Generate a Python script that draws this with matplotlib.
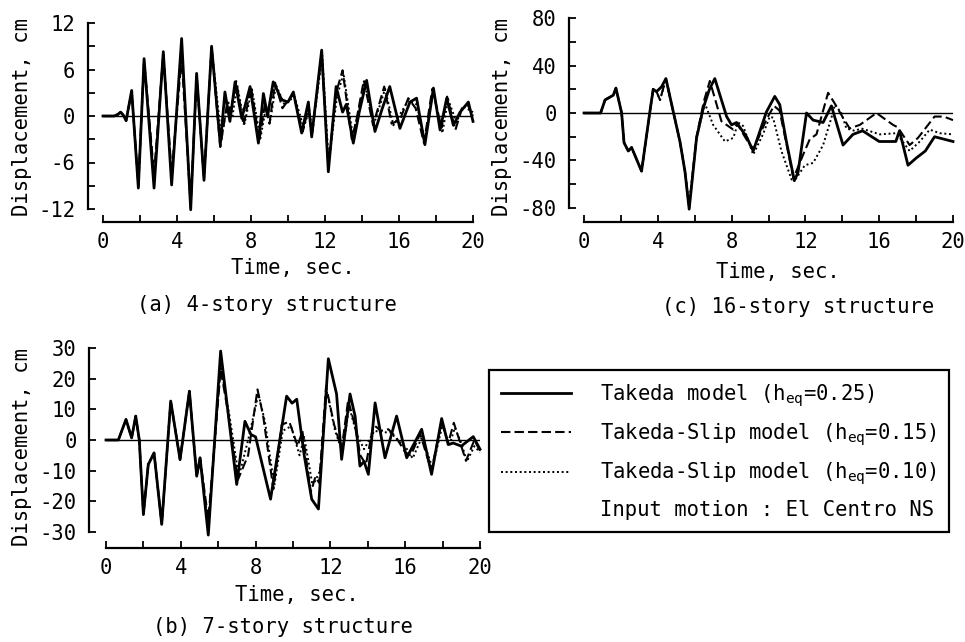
import matplotlib
matplotlib.use("Agg")
import matplotlib.pyplot as plt
from matplotlib.lines import Line2D

plt.rcParams['font.family'] = ['DejaVu Sans Mono']
plt.rcParams['mathtext.fontset'] = 'custom'
plt.rcParams['mathtext.rm'] = 'DejaVu Sans Mono'
plt.rcParams['mathtext.it'] = 'DejaVu Sans Mono'
plt.rcParams['axes.unicode_minus'] = False

FS = 14.8
W, H = 965, 642

# ---- (a) 4-story structure ----
ta_solid = [0, 0.6, 0.8, 0.95, 1.1, 1.25, 1.55, 1.91, 2.22, 2.76, 3.26, 3.71, 4.25, 4.74, 5.06,
            5.46, 5.87, 6.34, 6.59, 6.86, 7.14, 7.5, 7.95, 8.4, 8.67, 8.9, 9.2, 9.66, 10.0,
            10.29, 10.74, 11.1, 11.28, 11.82, 12.18, 12.6, 12.95, 13.15, 13.53, 13.85, 14.25,
            14.7, 15.1, 15.5, 16.05, 16.59, 16.95, 17.4, 17.86, 18.22, 18.58, 18.94, 19.3,
            19.75, 20.0]
va_solid = [0, 0, 0.2, 0.5, 0.1, -0.6, 3.3, -9.3, 7.4, -9.3, 8.3, -8.9, 10.0, -12.1, 5.5,
            -8.3, 9.0, -3.7, 3.1, -0.7, 4.4, -0.3, 3.8, -3.5, 2.9, 0.0, 4.4, 2.1, 1.8,
            3.1, -2.2, 1.8, -2.7, 8.5, -7.2, 3.8, 0.5, 1.5, -3.5, 0.5, 4.6,
            -2.0, 1.0, 3.8, -1.6, 1.8, 2.3, -3.7, 3.6, -1.8, 2.3, -1.2, 0.5,
            1.8, -0.7]
ta_dash = [0, 0.6, 0.8, 0.95, 1.1, 1.25, 1.55, 1.91, 2.22, 2.76, 3.26, 3.71, 4.25, 4.74, 5.06,
           5.46, 5.87, 6.34, 6.7, 6.9, 7.2, 7.6, 8.0, 8.45, 8.75, 9.0, 9.3, 9.7, 10.0, 10.3,
           10.8, 11.1, 11.3, 11.82, 12.18, 12.6, 12.95, 13.45, 13.7, 14.1, 14.6, 15.2, 15.6,
           16.05, 16.5, 16.9, 17.35, 17.8, 18.3, 18.6, 19.05, 19.4, 19.7, 20.0]
va_dash = [0, 0, 0.2, 0.5, 0.1, -0.6, 3.2, -9.0, 7.2, -7.5, 8.0, -7.5, 7.5, -11.5, 5.2,
           -8.0, 8.8, -4.0, 1.5, 0.5, 4.5, -1.2, 3.8, -3.2, 1.5, -1.0, 4.3, 1.0, 2.0, 2.8,
           -2.0, 1.0, -2.3, 8.0, -6.5, 3.0, 5.9, -3.0, -0.5, 4.6, -1.2, 3.8, -1.0,
           -0.5, 2.3, 1.0, -3.5, 3.5, -1.5, 2.5, -1.8, 1.0, 1.5, 0.0]
ta_dot = [0, 0.6, 0.8, 0.95, 1.1, 1.25, 1.55, 1.91, 2.22, 2.76, 3.26, 3.71, 4.25, 4.74, 5.06,
          5.46, 5.87, 6.4, 6.75, 7.0, 7.25, 7.65, 8.05, 8.5, 8.8, 9.05, 9.35, 9.8, 10.35,
          10.85, 11.15, 11.32, 11.85, 12.2, 12.65, 13.0, 13.5, 14.15, 14.65, 15.25, 15.7,
          16.5, 16.95, 17.4, 17.85, 18.35, 18.65, 19.1, 19.5, 20.0]
va_dot = [0, 0, 0.2, 0.5, 0.1, -0.6, 3.2, -9.1, 7.3, -8.0, 8.1, -8.0, 9.0, -11.8, 5.3,
          -8.1, 8.9, -3.0, 2.0, 0.0, 4.0, -1.0, 3.5, -3.0, 1.0, -0.5, 4.0, 1.5, 2.5,
          -1.5, 0.8, -2.0, 7.8, -6.0, 2.5, 5.5, -2.5, 4.2, -1.0, 3.5, -1.2,
          2.0, 1.5, -3.0, 3.2, -2.2, 2.2, -0.8, 1.2, 0.5]

# ---- (c) 16-story structure ----
tc_solid = [0, 0.9, 1.14, 1.59, 1.73, 2.04, 2.17, 2.4, 2.58, 3.12, 3.57, 3.75, 3.93, 4.2, 4.44,
            4.84, 5.2, 5.47, 5.7, 6.1, 6.46, 6.8, 7.09, 7.73, 8.0, 8.27, 8.81, 9.17, 9.89,
            10.34, 10.61, 10.97, 11.4, 11.6, 12.06, 12.42, 12.96, 13.41, 14.04, 14.58, 15.1,
            16.0, 16.9, 17.1, 17.56, 18.0, 18.5, 19.0, 19.5, 20.0]
vc_solid = [0, 0, 11, 15, 21, 0, -25, -32, -29, -49, 1, 20, 18, 22, 29,
            1, -24, -49, -81, -21, 4, 20, 29, -3, -10, -8, -20, -32, 1,
            14, 7, -24, -57, -50, 0, -6, -8, 6, -27, -18, -15,
            -24, -24, -15, -44, -38, -32, -20, -22, -24]
tc_dash = [0, 0.9, 1.14, 1.59, 1.73, 2.04, 2.17, 2.4, 2.58, 3.12, 3.57, 3.75, 3.93, 4.12, 4.44,
           4.84, 5.2, 5.47, 5.7, 6.1, 6.5, 6.82, 7.45, 8.09, 8.3, 8.99, 9.2, 9.9, 10.3, 10.6,
           11.0, 11.35, 11.88, 12.24, 12.6, 13.23, 13.59, 14.04, 14.4, 14.95, 15.85, 16.75,
           17.0, 17.65, 18.1, 19.0, 19.5, 20.0]
vc_dash = [0, 0, 11, 15, 21, 0, -25, -32, -29, -49, 1, 20, 18, 11, 29,
           1, -24, -49, -80, -20, 10, 27, -7, -14, -9, -27, -30, -5, 6, 2,
           -28, -55, -35, -22, -18, 17, 8, -4, -13, -10, 0, -10,
           -12, -27, -21, -3, -3, -6]
tc_dot = [0, 0.9, 1.14, 1.59, 1.73, 2.04, 2.17, 2.4, 2.58, 3.12, 3.57, 3.75, 3.93, 4.12, 4.44,
          4.84, 5.2, 5.47, 5.7, 6.1, 6.55, 7.0, 7.64, 8.09, 8.36, 8.63, 9.17, 9.7, 10.07,
          10.25, 10.7, 11.25, 11.5, 11.97, 12.42, 12.96, 13.41, 13.6, 13.95, 14.22, 14.67,
          15.04, 16.03, 16.93, 17.65, 18.2, 18.74, 19.28, 20.0]
vc_dot = [0, 0, 11, 15, 21, 0, -25, -32, -29, -49, 1, 20, 18, 11, 28,
          1, -24, -49, -76, -21, 8, -10, -24, -21, -8, -11, -35, -18, -3,
          -4, -32, -56, -55, -44, -42, -27, -4, 7, 0, -13, -15,
          -13, -18, -17, -32, -24, -14, -17, -18]

# ---- (b) 7-story structure ----
tb_solid = [0, 0.66, 1.07, 1.37, 1.59, 1.78, 2.0, 2.26, 2.57, 2.98, 3.46, 3.96, 4.46, 4.85,
            5.03, 5.47, 6.13, 6.99, 7.43, 7.75, 8.0, 8.8, 9.66, 9.95, 10.2, 10.6, 11.0,
            11.36, 11.89, 12.33, 12.6, 13.05, 13.32, 13.58, 13.8, 14.03, 14.39, 14.92,
            15.54, 16.08, 16.88, 17.41, 17.95, 18.3, 18.57, 19.0, 19.64, 20.0]
vb_solid = [0, 0, 6.7, 0.7, 7.8, 0, -24.3, -8, -4.2, -27.5, 12.7, -6.4, 15.9, -11.8,
            -5.8, -31.0, 29, -14.5, 6.1, 1.8, 1.0, -19.3, 14.3, 12, 13.3, -5, -19.3,
            -22.5, 26.5, 15, -6.3, 15, 7.8, -8.5, -7, -11.2, 12.1, -5.8,
            7.8, -5.8, 3.5, -11.2, 7.0, -1.5, -1, -2, 1.1, -3]
tb_dash = [0, 0.66, 1.07, 1.37, 1.59, 1.78, 2.0, 2.26, 2.57, 2.98, 3.46, 3.96, 4.46, 4.85,
           5.03, 5.47, 6.13, 6.5, 7.05, 7.6, 8.1, 8.4, 8.95, 9.4, 9.8, 10.25, 10.5, 10.95,
           11.2, 11.4, 11.77, 12.2, 12.6, 12.95, 13.3, 13.6, 13.9, 14.3, 14.7, 15.1, 15.5,
           16.0, 16.3, 16.8, 17.4, 17.95, 18.3, 18.6, 19.0, 19.25, 19.7, 20.0]
vb_dash = [0, 0, 6.7, 0.7, 7.8, 0, -24.3, -8, -4.2, -27.5, 12.7, -6.4, 15.9, -11.8,
           -5.8, -26, 23, 10, -13, -5, 16.5, 8, -16, 5, 6, -2, 3, -17,
           -12, -14, 17.5, 5, -3, 13, 5, -5, -8, 5, 3, 3.5, 1,
           -4, -5, 2, -10, 6, -1, 5.6, -2, -6.8, 0, -3.5]
tb_dot = [0, 0.66, 1.07, 1.37, 1.59, 1.78, 2.0, 2.26, 2.57, 2.98, 3.46, 3.96, 4.46, 4.85,
          5.03, 5.47, 6.13, 6.6, 7.1, 7.6, 8.15, 8.5, 9.0, 9.45, 9.9, 10.35, 10.6, 11.05,
          11.45, 11.8, 12.25, 12.65, 13.0, 13.4, 13.8, 14.35, 14.8, 15.2, 15.6, 16.1, 16.4,
          16.9, 17.45, 18.0, 18.35, 18.65, 19.0, 19.3, 19.7, 20.0]
vb_dot = [0, 0, 6.7, 0.7, 7.8, 0, -24.3, -8, -4.2, -27.5, 12.7, -6.4, 15.9, -11.8,
          -5.8, -28, 24, 8, -12, 0, 15, 6, -15, 3, 4.5, -5, 1, -15,
          -10, 16, 3, -4, 11, 2, -3, 3, 2.5, 2.5, 0, -3, -6,
          1, -9, 5, -2, 4, -1, -7, -2, -4]

labels = [r'Takeda model (h$_{\mathrm{eq}}$=0.25)',
          r'Takeda-Slip model (h$_{\mathrm{eq}}$=0.15)',
          r'Takeda-Slip model (h$_{\mathrm{eq}}$=0.10)',
          'Input motion : El Centro NS']

solid_kw = dict(color='black', lw=2.0, clip_on=False)
dash_kw = dict(color='black', lw=1.5, ls=(0, (4.5, 2)), clip_on=False)
dot_kw = dict(color='black', lw=1.4, ls=(0, (1, 1.4)), clip_on=False)


def rect(x0, y0, x1, y1):
    return [x0 / W, 1 - y1 / H, (x1 - x0) / W, (y1 - y0) / H]


def setup(ax, ylim, major, minor, out_l, out_b):
    ax.set_xlim(0, 20)
    ax.set_ylim(*ylim)
    ax.patch.set_alpha(0)
    for s in ['top', 'right']:
        ax.spines[s].set_visible(False)
    for s in ['left', 'bottom']:
        ax.spines[s].set_linewidth(1.6)
    ax.spines['left'].set_position(('outward', out_l * 0.72))
    ax.spines['bottom'].set_position(('outward', out_b * 0.72))
    ax.spines['left'].set_bounds(*ylim)
    ax.spines['bottom'].set_bounds(0, 20)
    ax.set_xticks(range(0, 21, 4))
    ax.set_xticks(range(0, 21, 2), minor=True)
    ax.set_yticks(major)
    if minor is not None:
        ax.set_yticks(minor, minor=True)
    ax.tick_params(which='both', direction='in', length=5, width=1.3, labelsize=FS)
    ax.tick_params(axis='x', pad=7)
    ax.tick_params(axis='y', pad=9)
    ax.axhline(0, color='black', lw=1.0, zorder=1)


fig = plt.figure(figsize=(W / 100, H / 100), dpi=100)

ax_a = fig.add_axes(rect(103, 23, 473, 209))
setup(ax_a, (-12, 12), [-12, -6, 0, 6, 12], range(-12, 13, 3), 15, 13)
ax_a.plot(ta_dot, va_dot, **dot_kw)
ax_a.plot(ta_dash, va_dash, **dash_kw)
ax_a.plot(ta_solid, va_solid, **solid_kw)

ax_c = fig.add_axes(rect(584, 18, 953, 208))
setup(ax_c, (-80, 80), [-80, -40, 0, 40, 80], range(-80, 81, 20), 15, 14)
ax_c.plot(tc_dot, vc_dot, **dot_kw)
ax_c.plot(tc_dash, vc_dash, **dash_kw)
ax_c.plot(tc_solid, vc_solid, **solid_kw)

ax_b = fig.add_axes(rect(106, 348, 480, 532))
setup(ax_b, (-30, 30), range(-30, 31, 10), None, 17, 16)
ax_b.plot(tb_dot, vb_dot, **dot_kw)
ax_b.plot(tb_dash, vb_dash, **dash_kw)
ax_b.plot(tb_solid, vb_solid, **solid_kw)


# axis labels and captions
def ftext(x, y, s, **kw):
    fig.text(x / W, 1 - y / H, s, fontsize=FS, ha='center', va='center', **kw)


ftext(22, 117, 'Displacement, cm', rotation=90)
ftext(502, 117, 'Displacement, cm', rotation=90)
ftext(22, 447, 'Displacement, cm', rotation=90)
ftext(293, 268, 'Time, sec.')
ftext(778, 272, 'Time, sec.')
ftext(297, 595, 'Time, sec.')
ftext(267, 305, '(a) 4-story structure')
ftext(798, 307, '(c) 16-story structure')
ftext(283, 627, '(b) 7-story structure')

blank = Line2D([], [], color='none')
h1 = Line2D([], [], **{k: v for k, v in solid_kw.items() if k != 'clip_on'})
h2 = Line2D([], [], **{k: v for k, v in dash_kw.items() if k != 'clip_on'})
h3 = Line2D([], [], **{k: v for k, v in dot_kw.items() if k != 'clip_on'})
leg = fig.legend([h1, h2, h3, blank], labels, loc='upper left',
                 bbox_to_anchor=(489 / W, 1 - 370 / H), fontsize=FS,
                 frameon=True, fancybox=False, edgecolor='black', framealpha=1,
                 handlelength=3.4, handletextpad=1.4, labelspacing=0.6,
                 borderpad=0.6, borderaxespad=0)
leg.get_frame().set_linewidth(1.6)

fig.savefig('out.png', dpi=100)
